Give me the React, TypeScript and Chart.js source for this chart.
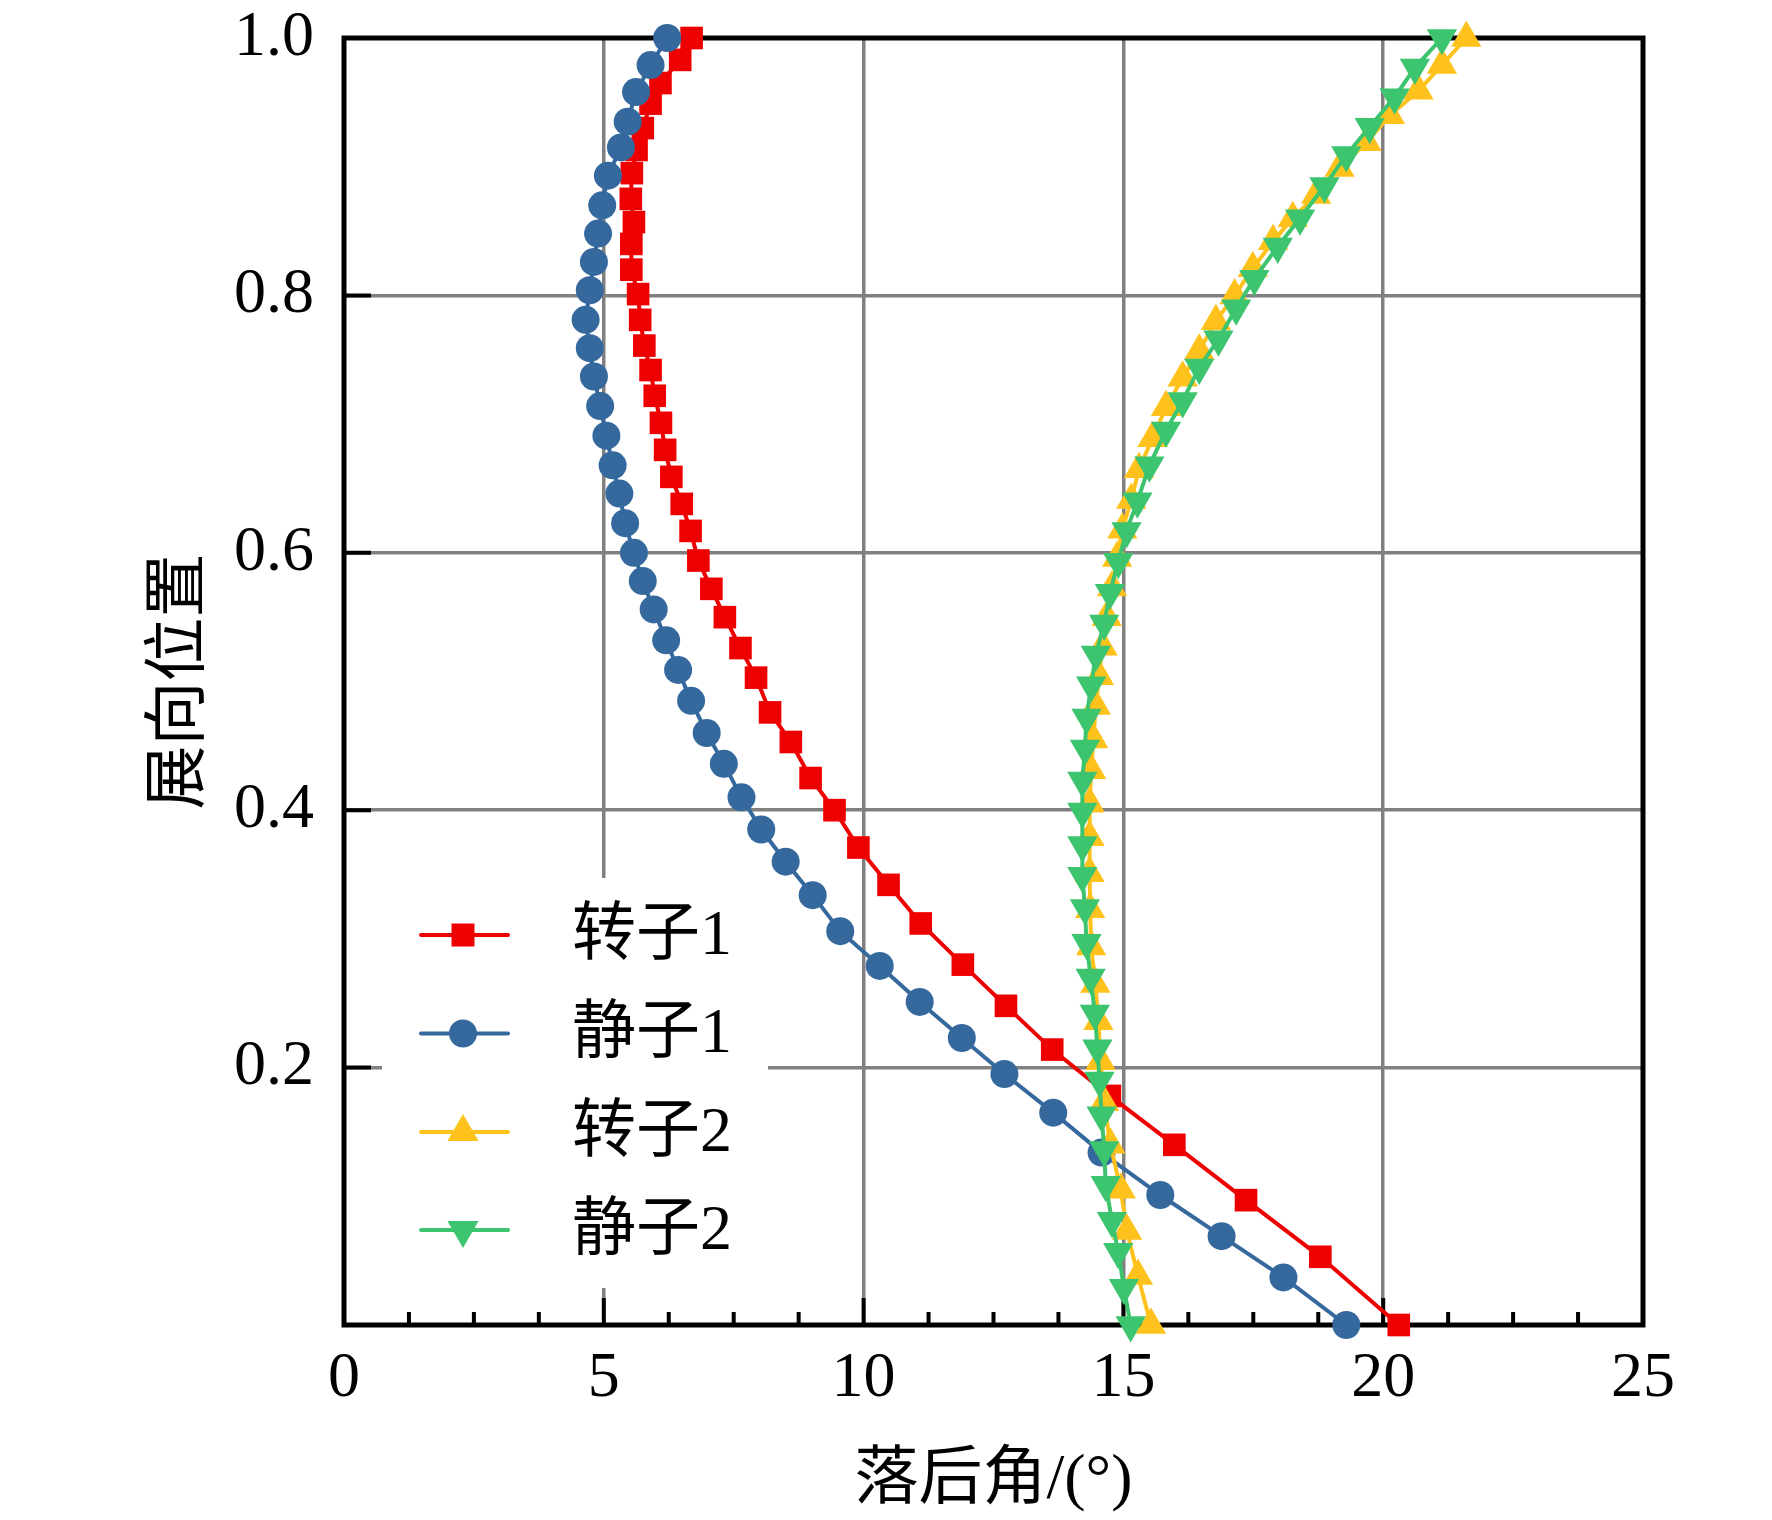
import React, { useEffect, useRef } from 'react';
import { Chart, registerables } from 'chart.js';

Chart.register(...registerables);

const W = 1772;
const H = 1520;

// 转子1 (rotor 1)
const rotor1Y = [1.0, 0.983, 0.965, 0.949, 0.930, 0.913, 0.895, 0.875, 0.857, 0.840,
  0.820, 0.801, 0.781, 0.761, 0.742, 0.722, 0.701, 0.680, 0.659, 0.638,
  0.617, 0.594, 0.572, 0.550, 0.526, 0.503, 0.476, 0.453, 0.425, 0.400,
  0.371, 0.342, 0.312, 0.280, 0.248, 0.214, 0.178, 0.140, 0.097, 0.053, 0.0];
const rotor1X = [6.69, 6.47, 6.09, 5.90, 5.75, 5.63, 5.54, 5.52, 5.58, 5.53,
  5.53, 5.66, 5.70, 5.78, 5.90, 5.98, 6.10, 6.18, 6.30, 6.50,
  6.67, 6.82, 7.07, 7.33, 7.63, 7.93, 8.20, 8.60, 8.98, 9.44,
  9.90, 10.48, 11.10, 11.91, 12.74, 13.63, 14.74, 15.98, 17.36, 18.79, 20.30];

// 静子1 (stator 1)
const stator1Y = [1.0, 0.979, 0.958, 0.935, 0.915, 0.893, 0.870, 0.848, 0.826, 0.804,
  0.781, 0.759, 0.737, 0.714, 0.691, 0.668, 0.646, 0.623, 0.600, 0.578,
  0.556, 0.532, 0.509, 0.485, 0.460, 0.436, 0.410, 0.385, 0.360, 0.334,
  0.306, 0.279, 0.251, 0.223, 0.195, 0.165, 0.134, 0.101, 0.069, 0.037, 0.0];
const stator1X = [6.22, 5.90, 5.62, 5.46, 5.33, 5.08, 4.97, 4.89, 4.81, 4.73,
  4.65, 4.73, 4.81, 4.93, 5.05, 5.17, 5.30, 5.41, 5.58, 5.75,
  5.96, 6.20, 6.43, 6.68, 6.98, 7.31, 7.65, 8.03, 8.50, 9.02,
  9.55, 10.31, 11.08, 11.89, 12.71, 13.65, 14.58, 15.71, 16.89, 18.08, 19.29];

// 转子2 (rotor 2)
const rotor2Y = [1.0, 0.979, 0.959, 0.940, 0.919, 0.899, 0.878, 0.860, 0.842, 0.821,
  0.800, 0.780, 0.757, 0.736, 0.713, 0.689, 0.665, 0.641, 0.618, 0.596,
  0.573, 0.550, 0.527, 0.504, 0.481, 0.455, 0.431, 0.405, 0.379, 0.351,
  0.323, 0.294, 0.265, 0.236, 0.205, 0.173, 0.140, 0.105, 0.073, 0.038, 0.0];
const rotor2X = [21.60, 21.13, 20.68, 20.13, 19.68, 19.16, 18.71, 18.26, 17.88, 17.49,
  17.14, 16.78, 16.46, 16.14, 15.82, 15.56, 15.30, 15.15, 14.98, 14.88,
  14.78, 14.68, 14.60, 14.53, 14.47, 14.42, 14.38, 14.35, 14.35, 14.35,
  14.36, 14.38, 14.46, 14.52, 14.56, 14.63, 14.75, 14.95, 15.07, 15.28, 15.53];

// 静子2 (stator 2)
const stator2Y = [1.0, 0.977, 0.954, 0.931, 0.909, 0.885, 0.860, 0.838, 0.813, 0.790,
  0.766, 0.744, 0.718, 0.695, 0.668, 0.640, 0.617, 0.593, 0.569, 0.545,
  0.521, 0.497, 0.472, 0.448, 0.423, 0.399, 0.373, 0.349, 0.324, 0.297,
  0.270, 0.242, 0.215, 0.190, 0.163, 0.136, 0.109, 0.081, 0.057, 0.029, 0.0];
const stator2X = [21.13, 20.61, 20.22, 19.74, 19.29, 18.87, 18.40, 17.97, 17.52, 17.17,
  16.83, 16.46, 16.14, 15.82, 15.50, 15.27, 15.06, 14.90, 14.74, 14.63,
  14.47, 14.38, 14.29, 14.26, 14.21, 14.21, 14.21, 14.21, 14.26, 14.29,
  14.37, 14.45, 14.50, 14.54, 14.58, 14.63, 14.66, 14.78, 14.90, 15.01, 15.14];

const seriesNames = ['转子1', '静子1', '转子2', '静子2'];
const xTitle = '落后角/(°)';
const yTitle = '展向位置';

const RED = '#EE0000';
const BLUE = '#35699D';
const YELLOW = '#FFC21C';
const GREEN = '#3CC46E';
const GRID = '#808080';

const FONT = "'Liberation Serif', 'Times New Roman', 'Noto Sans CJK SC', serif";

type Marker = 'rect' | 'circle' | 'up' | 'down';

function drawMarker(ctx: CanvasRenderingContext2D, kind: Marker, x: number, y: number, color: string) {
  ctx.fillStyle = color;
  ctx.beginPath();
  if (kind === 'rect') {
    const s = 11.5;
    ctx.rect(x - s, y - s, 2 * s, 2 * s);
  } else if (kind === 'circle') {
    ctx.arc(x, y, 14, 0, Math.PI * 2);
  } else {
    const r = 18;
    const d = kind === 'up' ? 1 : -1;
    ctx.moveTo(x, y - d * r);
    ctx.lineTo(x + 0.866 * r, y + d * 0.5 * r);
    ctx.lineTo(x - 0.866 * r, y + d * 0.5 * r);
    ctx.closePath();
  }
  ctx.fill();
}

const framePlugin = {
  id: 'frameAndLegend',
  beforeDatasetsDraw(chart: any) {
    const { ctx, chartArea } = chart;
    const { left, right, top, bottom } = chartArea;
    const xs = chart.scales.x;
    const ys = chart.scales.y;
    ctx.save();

    // legend background (covers grid)
    ctx.fillStyle = '#ffffff';
    ctx.fillRect(left + 38, bottom - 447, 386, 410);

    // ticks (inward)
    ctx.strokeStyle = '#000';
    ctx.lineWidth = 4;
    ctx.beginPath();
    for (let k = 0; k <= 20; k++) {
      const v = k * 1.25;
      const px = xs.getPixelForValue(v);
      const len = k % 4 === 0 ? 27 : 13;
      ctx.moveTo(px, bottom);
      ctx.lineTo(px, bottom - len);
    }
    for (let k = 1; k <= 5; k++) {
      const py = ys.getPixelForValue(k * 0.2);
      ctx.moveTo(left, py);
      ctx.lineTo(left + 27, py);
    }
    ctx.stroke();

    // frame
    ctx.lineWidth = 5;
    ctx.strokeRect(left, top, right - left, bottom - top);

    // legend entries
    const colors = [RED, BLUE, YELLOW, GREEN];
    const markers: Marker[] = ['rect', 'circle', 'up', 'down'];
    const rows = [bottom - 390, bottom - 291.5, bottom - 193, bottom - 95];
    ctx.font = `64px ${FONT}`;
    ctx.textBaseline = 'middle';
    ctx.textAlign = 'left';
    for (let i = 0; i < 4; i++) {
      const ry = rows[i];
      ctx.strokeStyle = colors[i];
      ctx.lineWidth = 4;
      ctx.lineCap = 'round';
      ctx.beginPath();
      ctx.moveTo(left + 77, ry);
      ctx.lineTo(left + 164, ry);
      ctx.stroke();
      drawMarker(ctx, markers[i], left + 119, ry, colors[i]);
      ctx.fillStyle = '#000';
      ctx.fillText(seriesNames[i], left + 228, ry + 2);
    }
    ctx.restore();
  },
};

function pts(xs: number[], ys: number[]) {
  return xs.map((x, i) => ({ x, y: ys[i] }));
}

export default function App() {
  const ref = useRef<HTMLCanvasElement>(null);

  useEffect(() => {
    const canvas = ref.current;
    if (!canvas) return;
    const common = {
      showLine: true,
      borderWidth: 4,
      pointBorderWidth: 0,
      clip: false as any,
      tension: 0,
    };
    const chart = new Chart(canvas, {
      type: 'scatter',
      data: {
        datasets: [
          { ...common, label: seriesNames[0], data: pts(rotor1X, rotor1Y), borderColor: RED, backgroundColor: RED,
            pointStyle: 'rect', pointRadius: 16, pointHoverRadius: 16, order: 4 },
          { ...common, label: seriesNames[1], data: pts(stator1X, stator1Y), borderColor: BLUE, backgroundColor: BLUE,
            pointStyle: 'circle', pointRadius: 14, pointHoverRadius: 14, order: 3 },
          { ...common, label: seriesNames[2], data: pts(rotor2X, rotor2Y), borderColor: YELLOW, backgroundColor: YELLOW,
            pointStyle: 'triangle', pointRadius: 17.5, pointHoverRadius: 17.5, order: 2 },
          { ...common, label: seriesNames[3], data: pts(stator2X, stator2Y), borderColor: GREEN, backgroundColor: GREEN,
            pointStyle: 'triangle', pointRotation: 180, pointRadius: 17.5, pointHoverRadius: 17.5, order: 1 },
        ] as any,
      },
      options: {
        responsive: false,
        animation: false,
        devicePixelRatio: 1,
        events: [],
        layout: { padding: { left: 0, top: 38, right: 129, bottom: 0 } },
        plugins: {
          legend: { display: false },
          tooltip: { enabled: false },
        },
        scales: {
          x: {
            type: 'linear',
            min: 0,
            max: 25,
            ticks: {
              stepSize: 5,
              autoSkip: false,
              maxRotation: 0,
              color: '#000',
              padding: 16,
              font: { family: FONT, size: 64 },
            },
            grid: { color: GRID, lineWidth: 3.5, drawTicks: false },
            border: { display: false },
            title: {
              display: true,
              text: xTitle,
              color: '#000',
              font: { family: FONT, size: 64 },
              padding: { top: 0, bottom: 0 },
            },
            afterFit: (s: any) => { s.height = 195; s.paddingLeft = 0; s.paddingRight = 0; },
          },
          y: {
            type: 'linear',
            min: 0,
            max: 1,
            ticks: {
              stepSize: 0.2,
              autoSkip: false,
              color: '#000',
              padding: 30,
              font: { family: FONT, size: 64 },
              callback: (v: any) => (Math.abs(Number(v)) < 1e-9 ? '' : Number(v).toFixed(1)),
            },
            grid: { color: GRID, lineWidth: 3.5, drawTicks: false },
            border: { display: false },
            title: {
              display: true,
              text: yTitle,
              color: '#000',
              font: { family: FONT, size: 64 },
              padding: { top: 143, bottom: 0 },
            },
            afterFit: (s: any) => { s.width = 344; s.paddingTop = 0; s.paddingBottom = 0; },
          },
        },
      } as any,
      plugins: [framePlugin],
    });
    return () => chart.destroy();
  }, []);

  return (
    <div style={{ position: 'absolute', left: 0, top: 0, width: W, height: H, background: '#fff' }}>
      <canvas ref={ref} width={W} height={H} style={{ width: W, height: H, display: 'block' }} />
    </div>
  );
}
